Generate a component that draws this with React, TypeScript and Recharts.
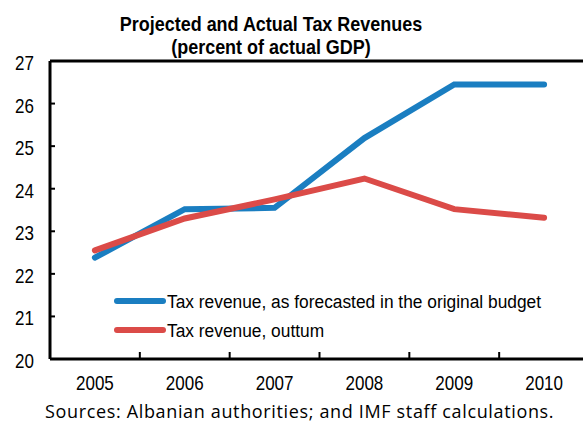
import React from "react";
import { LineChart, Line, XAxis, YAxis, ReferenceLine } from "recharts";

const years = ["2005", "2006", "2007", "2008", "2009", "2010"];
const forecast = [22.38, 23.52, 23.55, 25.19, 26.45, 26.45];
const outturn = [22.55, 23.3, 23.75, 24.24, 23.52, 23.32];
const yTicks = [20, 21, 22, 23, 24, 25, 26, 27];

const series = [
  { key: "forecast", name: "Tax revenue, as forecasted in the original budget", color: "#1A7EC1" },
  { key: "outturn", name: "Tax revenue, outtum", color: "#DB4B48" },
];

const FONT = '"Liberation Sans", Arial, sans-serif';
const NARROW = 0.85; // the original uses Arial Narrow; squeeze Liberation Sans

const data = years.map((year, i) => ({
  year,
  forecast: forecast[i],
  outturn: outturn[i],
}));

const CHART_W = 600;
const PLOT_LEFT = 50;
const PLOT_RIGHT = 589;
const BAND = (PLOT_RIGHT - PLOT_LEFT) / years.length;

function XTick(props: any) {
  const { x, y, payload, index } = props;
  return (
    <g>
      <line x1={x - BAND / 2} x2={x - BAND / 2} y1={y} y2={y - 7} stroke="#000" strokeWidth={2} />
      {index === years.length - 1 && (
        <line x1={x + BAND / 2} x2={x + BAND / 2} y1={y} y2={y - 7} stroke="#000" strokeWidth={2} />
      )}
      <text
        x={0}
        y={0}
        transform={`translate(${x},${y + 31}) scale(${NARROW},1)`}
        textAnchor="middle"
        fontSize={20}
        fontFamily={FONT}
        fill="#000"
      >
        {payload.value}
      </text>
    </g>
  );
}

function YTick(props: any) {
  const { x, y, payload } = props;
  return (
    <text
      x={0}
      y={0}
      transform={`translate(${x - 1},${y + 9}) scale(${NARROW},1)`}
      textAnchor="end"
      fontSize={20}
      fontFamily={FONT}
      fill="#000"
    >
      {payload.value}
    </text>
  );
}

function LegendBox() {
  return (
    <svg
      width={440}
      height={50}
      style={{ position: "absolute", left: 110, top: 290 }}
    >
      {series.map((s, i) => (
        <g key={s.key}>
          <line
            x1={7}
            x2={53}
            y1={11 + i * 29}
            y2={11 + i * 29}
            stroke={s.color}
            strokeWidth={6}
            strokeLinecap="round"
          />
          <text
            x={0}
            y={0}
            transform={`translate(57,${18 + i * 29}) scale(0.913,1)`}
            fontSize={19}
            fontFamily={FONT}
            fill="#000"
          >
            {s.name}
          </text>
        </g>
      ))}
    </svg>
  );
}

export default function App() {
  return (
    <div
      style={{
        position: "absolute",
        left: 0,
        top: 0,
        width: 583,
        height: 423,
        overflow: "hidden",
        background: "#fff",
      }}
    >
      <div
        style={{
          position: "absolute",
          left: 71,
          width: 400,
          top: 12,
          textAlign: "center",
          fontFamily: FONT,
          fontWeight: "bold",
          fontSize: 21,
          lineHeight: "23px",
          color: "#000",
          transform: "scaleX(0.855)",
          transformOrigin: "center",
          whiteSpace: "nowrap",
        }}
      >
        Projected and Actual Tax Revenues
        <br />
        (percent of actual GDP)
      </div>
      <LineChart
        width={CHART_W}
        height={423}
        data={data}
        margin={{ top: 61, right: CHART_W - PLOT_RIGHT, left: 0, bottom: 0 }}
      >
        <XAxis
          dataKey="year"
          scale="band"
          height={64}
          tickSize={0}
          tickMargin={0}
          tickLine={false}
          axisLine={{ stroke: "#000", strokeWidth: 3 }}
          tick={<XTick />}
          interval={0}
        />
        <YAxis
          domain={[20, 27]}
          ticks={yTicks}
          width={PLOT_LEFT}
          tickSize={-5}
          tickMargin={20}
          tickLine={{ stroke: "#000", strokeWidth: 2 }}
          axisLine={{ stroke: "#000", strokeWidth: 3 }}
          tick={<YTick />}
          interval={0}
        />
        <ReferenceLine y={27} stroke="#000" strokeWidth={3} ifOverflow="visible" />
        {series.map((s) => (
          <Line
            key={s.key}
            dataKey={s.key}
            name={s.name}
            stroke={s.color}
            strokeWidth={6}
            strokeLinecap="round"
            dot={false}
            activeDot={false}
            isAnimationActive={false}
          />
        ))}
      </LineChart>
      <LegendBox />
      <div
        style={{
          position: "absolute",
          left: 45,
          top: 400,
          width: 530,
          fontFamily: '"Open Sans", "Noto Sans", sans-serif',
          fontSize: 18,
          lineHeight: "22px",
          letterSpacing: "0.65px",
          color: "#000",
          whiteSpace: "nowrap",
        }}
      >
        Sources: Albanian authorities; and IMF staff calculations.
      </div>
    </div>
  );
}
